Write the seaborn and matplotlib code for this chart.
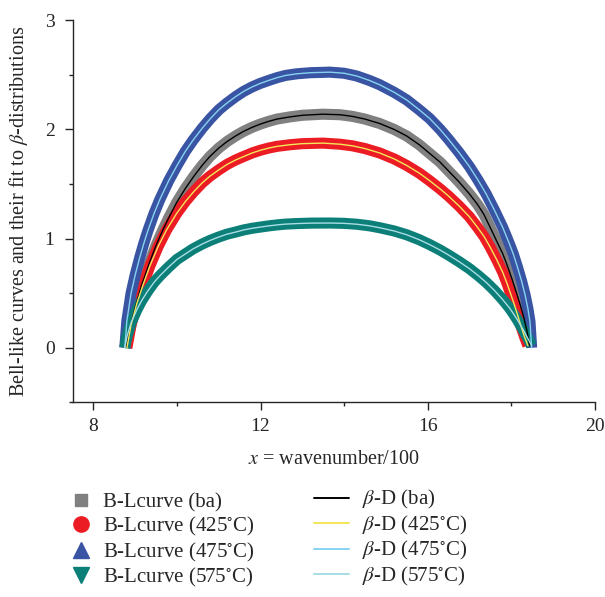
import numpy as np
import pandas as pd
import matplotlib
matplotlib.use("Agg")
import matplotlib.pyplot as plt
from matplotlib.lines import Line2D
from matplotlib.ticker import MultipleLocator
import seaborn as sns

sns.set_style("ticks")
plt.rcParams['font.family'] = ['Liberation Serif', 'DejaVu Serif']
plt.rcParams['mathtext.fontset'] = 'stix'

# bell-like curves (x = wavenumber/100)
x_ba = [8.78, 8.87, 9.0, 9.15, 9.35, 9.5, 9.65, 9.8, 9.99, 10.2, 10.4, 10.6, 10.78, 11.0, 11.2,
        11.4, 11.58, 11.8, 12.0, 12.2, 12.39, 12.7, 13.0, 13.49, 13.9, 14.2, 14.5, 14.85, 15.2,
        15.5, 15.8, 16.05, 16.3, 16.5, 16.75, 17.0, 17.2, 17.35, 17.5, 17.65, 17.8, 17.9, 18.02,
        18.13, 18.22, 18.3, 18.38, 18.44]
y_ba = [0.0, 0.17, 0.37, 0.57, 0.79, 0.94, 1.07, 1.19, 1.33, 1.46, 1.57, 1.67, 1.75, 1.83, 1.89,
        1.94, 1.98, 2.02, 2.05, 2.075, 2.095, 2.115, 2.13, 2.14, 2.135, 2.12, 2.095, 2.055, 2.0,
        1.94, 1.86, 1.78, 1.70, 1.62, 1.52, 1.41, 1.31, 1.22, 1.10, 0.98, 0.86, 0.76, 0.63,
        0.50, 0.39, 0.28, 0.15, 0.02]

x_425 = [8.8, 8.9, 9.04, 9.18, 9.35, 9.55, 9.75, 9.99, 10.2, 10.4, 10.6, 10.78, 11.0, 11.2, 11.4,
         11.58, 11.8, 12.0, 12.2, 12.39, 12.7, 13.0, 13.49, 13.9, 14.2, 14.5, 14.85, 15.2, 15.5,
         15.8, 16.05, 16.3, 16.5, 16.75, 17.0, 17.2, 17.35, 17.5, 17.65, 17.8, 17.9, 18.0, 18.08,
         18.17, 18.25, 18.33, 18.4]
y_425 = [0.0, 0.21, 0.41, 0.57, 0.75, 0.93, 1.08, 1.23, 1.34, 1.43, 1.51, 1.57, 1.63, 1.68, 1.72,
         1.75, 1.785, 1.81, 1.83, 1.845, 1.86, 1.87, 1.875, 1.865, 1.85, 1.825, 1.785, 1.73, 1.67,
         1.60, 1.53, 1.455, 1.39, 1.30, 1.20, 1.10, 1.02, 0.92, 0.81, 0.69, 0.59, 0.48, 0.39,
         0.28, 0.18, 0.09, 0.02]

x_475 = [8.75, 8.8, 8.9, 9.0, 9.11, 9.2, 9.3, 9.45, 9.59, 9.8, 10.0, 10.2, 10.38, 10.6, 10.8,
         11.0, 11.19, 11.4, 11.6, 11.8, 11.98, 12.2, 12.4, 12.6, 12.87, 13.2, 13.66, 14.0, 14.3,
         14.6, 14.85, 15.2, 15.5, 15.8, 16.05, 16.3, 16.5, 16.75, 17.0, 17.2, 17.4, 17.6, 17.8,
         17.95, 18.05, 18.15, 18.25, 18.33, 18.4, 18.45, 18.49]
y_475 = [0.0, 0.25, 0.50, 0.67, 0.83, 0.95, 1.07, 1.23, 1.36, 1.53, 1.67, 1.80, 1.90, 2.01, 2.10,
         2.18, 2.24, 2.30, 2.35, 2.39, 2.42, 2.45, 2.475, 2.495, 2.51, 2.52, 2.525, 2.515, 2.49,
         2.45, 2.41, 2.34, 2.27, 2.18, 2.10, 2.00, 1.91, 1.79, 1.66, 1.54, 1.41, 1.26, 1.10,
         0.96, 0.86, 0.74, 0.61, 0.49, 0.36, 0.24, 0.0]

x_575 = [8.75, 8.8, 8.9, 9.04, 9.15, 9.3, 9.45, 9.59, 9.8, 10.0, 10.2, 10.38, 10.6, 10.8, 11.0,
         11.19, 11.4, 11.6, 11.8, 11.98, 12.2, 12.4, 12.6, 12.87, 13.2, 13.66, 14.0, 14.3, 14.6,
         14.85, 15.2, 15.5, 15.8, 16.05, 16.3, 16.5, 16.75, 17.0, 17.2, 17.4, 17.6, 17.8, 17.95,
         18.05, 18.15, 18.28, 18.4, 18.49]
y_575 = [0.0, 0.10, 0.23, 0.35, 0.43, 0.52, 0.60, 0.66, 0.74, 0.81, 0.86, 0.905, 0.95, 0.985, 1.015,
         1.04, 1.06, 1.08, 1.095, 1.105, 1.117, 1.126, 1.133, 1.138, 1.142, 1.143, 1.14, 1.132, 1.118,
         1.10, 1.07, 1.035, 0.99, 0.945, 0.895, 0.85, 0.79, 0.725, 0.665, 0.60, 0.525, 0.44, 0.37,
         0.315, 0.255, 0.17, 0.085, 0.02]

curve_labels = ['B-Lcurve (ba)', 'B-Lcurve (425$^{\\circ}$C)', 'B-Lcurve (475$^{\\circ}$C)', 'B-Lcurve (575$^{\\circ}$C)']
fit_labels = ['$\\beta$-D (ba)', '$\\beta$-D (425$^{\\circ}$C)', '$\\beta$-D (475$^{\\circ}$C)', '$\\beta$-D (575$^{\\circ}$C)']
band_colors = ['#808080', '#ec1c24', '#3a54a4', '#0b7f78']
fit_colors = ['#000000', '#f3e65a', '#86d3f0', '#a9dde6']
markers = ['s', 'o', '^', 'v']
marker_sizes = [9, 11, 11, 11]

xs = [x_ba, x_425, x_475, x_575]
ys = [y_ba, y_425, y_475, y_575]

fig = plt.figure(figsize=(6.05, 5.97), dpi=100)
ax = fig.add_axes([0.120, 0.326, 0.863, 0.640])

for xv, yv, c in zip(xs, ys, band_colors):
    sns.lineplot(x=xv, y=yv, ax=ax, color=c, linewidth=8, sort=False, estimator=None,
                 solid_capstyle='butt', solid_joinstyle='round')
for xv, yv, c in zip(xs, ys, fit_colors):
    sns.lineplot(x=xv, y=yv, ax=ax, color=c, linewidth=1.0, sort=False, estimator=None)

ax.set_xlim(7.5, 20)
ax.set_ylim(-0.5, 3)
ax.xaxis.set_major_locator(MultipleLocator(4))
ax.xaxis.set_minor_locator(MultipleLocator(2))
ax.yaxis.set_major_locator(MultipleLocator(1))
ax.yaxis.set_minor_locator(MultipleLocator(0.5))
ax.tick_params(which='major', length=5.5, width=1, labelsize=14, direction='out')
ax.tick_params(which='minor', length=3, width=1, direction='out')
ax.tick_params(axis='x', which='major', pad=6)
ax.tick_params(axis='y', which='major', pad=7.5)
for s in ['left', 'bottom']:
    ax.spines[s].set_linewidth(1)
sns.despine(ax=ax)

ax.set_xlabel('$x$ = wavenumber/100', fontsize=14.5)
ax.set_ylabel('Bell-like curves and their fit to $\\beta$-distributions', fontsize=14.5)
ax.xaxis.set_label_coords(0.5, -0.125)
ax.yaxis.set_label_coords(-0.082, 0.5)

h1 = [Line2D([], [], ls='none', marker=m, color=c, markersize=ms)
      for m, c, ms in zip(markers, band_colors, marker_sizes)]
h2 = [Line2D([], [], color=c, lw=1.4) for c in fit_colors]
leg1 = fig.legend(h1, curve_labels, loc='upper left', bbox_to_anchor=(0.117, 0.174), frameon=False,
                  fontsize=15, handlelength=0.95, handletextpad=0.62, labelspacing=0.12,
                  borderpad=0, borderaxespad=0)
leg2 = fig.legend(h2, fit_labels, loc='upper left', bbox_to_anchor=(0.519, 0.182), frameon=False,
                  fontsize=15, handlelength=1.68, handletextpad=0.62, labelspacing=0.12,
                  borderpad=0, borderaxespad=0)

fig.savefig('out.png', dpi=100)
